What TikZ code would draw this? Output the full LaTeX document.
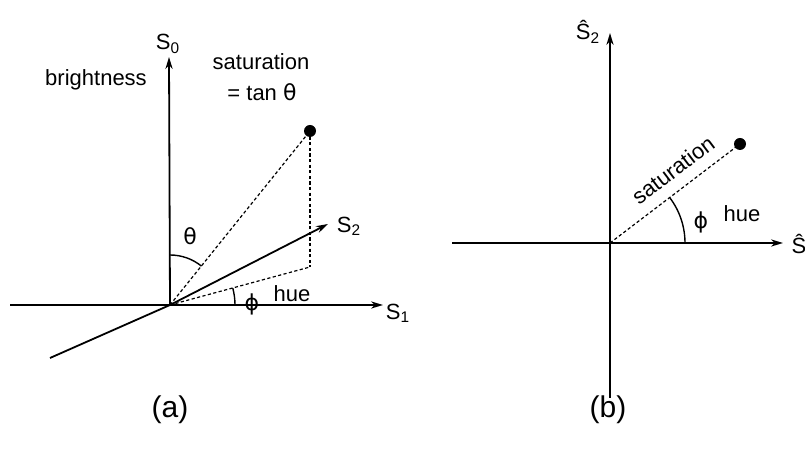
\documentclass[tikz,border=0pt]{standalone}
\usepackage{fontspec}
\setmainfont{Liberation Sans}
\newfontfamily\grk{DejaVu Sans}
\usepackage{tikz}
\usetikzlibrary{arrows.meta}

\tikzset{
  axis/.style={line width=0.9pt, -{Stealth[length=6pt,width=3.6pt]}},
  plain/.style={line width=0.9pt},
  proj/.style={line width=0.6pt, dash pattern=on 1.6pt off 1.2pt},
  lbl/.style={font=\fontsize{11}{13}\selectfont, inner sep=0.5pt},
  panelcap/.style={font=\fontsize{15}{18}\selectfont}
}

\begin{document}
\begin{tikzpicture}[x=0.5pt,y=0.5pt]
				\useasboundingbox (0,0) rectangle (805,454);
				
				% (a) three axes
				\coordinate (oa) at (170,149);
				\coordinate (s0tip) at (169,397);
				\coordinate (s1left) at (10,149);
				\coordinate (s1tip) at (383,149);
				\coordinate (s2back) at (50,96);
				\coordinate (s2tip) at (328,230);
				\coordinate (pa) at (310,323);
				\coordinate (foot) at (310,187);
				
				\draw[axis] (oa) -- (s0tip);
				\draw[axis] (s1left) -- (s1tip);
				\draw[plain] (s2back) -- (oa);
				\draw[axis] (oa) -- (s2tip);
				
				% projections
				\draw[proj] (oa) -- (pa);
				\draw[proj] (pa) -- (foot);
				\draw[proj] (oa) -- (foot);
				\fill (pa) circle (6);
				
				% angles
				\draw[line width=0.7pt] ([shift={(90:50)}]oa) arc[start angle=90, end angle=51, radius=50];
				\draw[line width=0.7pt] ([shift={(15:65)}]oa) arc[start angle=15, end angle=0, radius=65];
				
				% labels
				\node[lbl] (s0) at (168,410) {S\textsubscript{0}};
				\node[lbl] (s1) at (398,141) {S\textsubscript{1}};
				\node[lbl] (s2) at (349,228) {S\textsubscript{2}};
				\node[lbl] (bright) at (96,374) {brightness};
				\node[lbl] (sat) at (261,392) {saturation};
				\node[lbl] (tan) at (262,362) {= tan {\grk θ}};
				\node[lbl] (theta) at (190,218) {\grk θ};
				\node[lbl] (phia) at (252,150) {\grk ϕ};
				\node[lbl] (huea) at (292,160) {hue};
				\node[panelcap] (capa) at (170,44) {(a)};
				
				% (b) plane of S1 and S2
				\coordinate (ob) at (610,211);
				\coordinate (vtop) at (610,421);
				\coordinate (vbot) at (610,56);
				\coordinate (hleft) at (452,211);
				\coordinate (hright) at (783,211);
				\coordinate (pb) at (740,310);
				
				\draw[axis] (vbot) -- (vtop);
				\draw[axis] (hleft) -- (hright);
				\draw[proj] (ob) -- (pb);
				\fill (pb) circle (6);
				\draw[line width=0.7pt] ([shift={(37:75)}]ob) arc[start angle=37, end angle=0, radius=75];
				
				\node[lbl] (shat) at (799,210) {\^{S}};
				\node[lbl] (s2hat) at (588,422) {\^{S}\textsubscript{2}};
				\node[lbl, rotate=37] (satb) at (673,284) {saturation};
				\node[lbl] (phib) at (701,232) {\grk ϕ};
				\node[lbl] (hueb) at (742,240) {hue};
				\node[panelcap] (capb) at (608,44) {(b)};
			\end{tikzpicture}
\end{document}
